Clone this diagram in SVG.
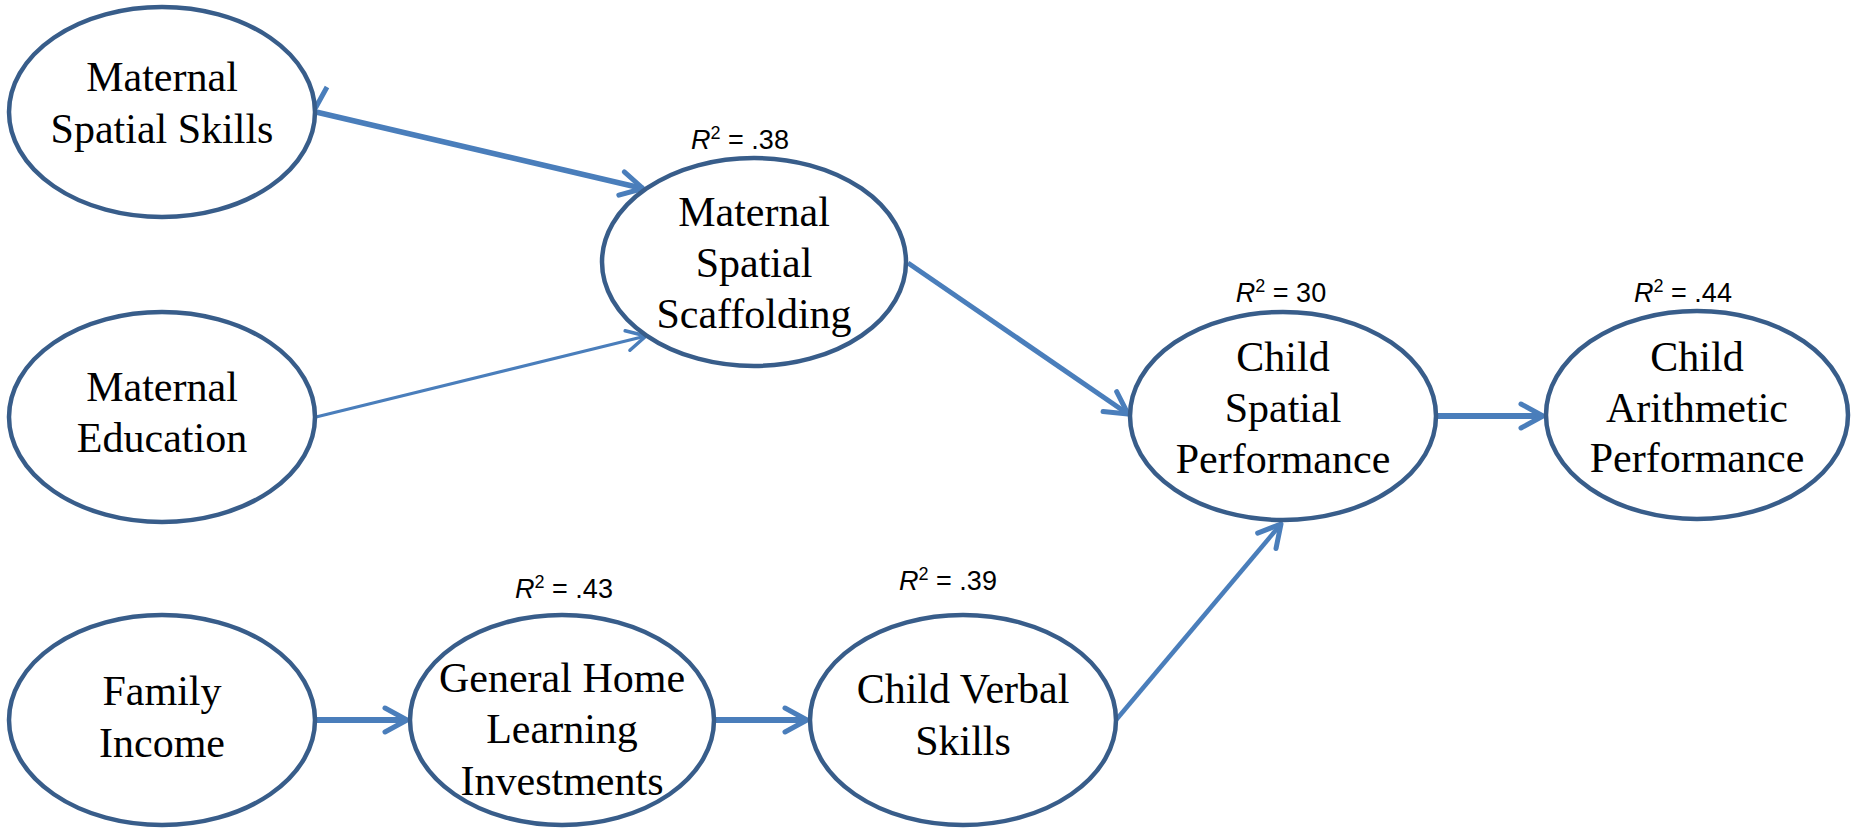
<svg xmlns="http://www.w3.org/2000/svg" width="1855" height="829" viewBox="0 0 1855 829">
<style>
.node{fill:#ffffff;stroke:#385D8A;stroke-width:4.5}
.lbl{font-family:"Liberation Serif","Times New Roman",serif;font-size:42px;fill:#000;text-anchor:middle}
.r2{font-family:"Liberation Sans",Arial,sans-serif;font-size:27px;fill:#000;text-anchor:middle}
.sup{font-size:18px}
.conn{fill:none;stroke:#4A7EBB;stroke-linecap:butt}
</style>
<defs>
<marker id="ah" markerUnits="userSpaceOnUse" markerWidth="40" markerHeight="40" viewBox="-30 -20 40 40" refX="0" refY="0" orient="auto" overflow="visible">
<path d="M-22,-12 L0,0 L-22,12" fill="none" stroke="#4A7EBB" stroke-width="5" stroke-linecap="round" stroke-linejoin="round"/>
</marker>
<marker id="ahs" markerUnits="userSpaceOnUse" markerWidth="40" markerHeight="40" viewBox="-30 -20 40 40" refX="0" refY="0" orient="auto" overflow="visible">
<path d="M-19,-10 L0,0 L-19,10" fill="none" stroke="#4A7EBB" stroke-width="3.5" stroke-linecap="round" stroke-linejoin="round"/>
</marker>
</defs>
<rect width="1855" height="829" fill="#ffffff"/>
<g id="connectors">
<path class="conn" d="M316,112 L643,188.5" stroke-width="5.5" marker-end="url(#ah)"/>
<path class="conn" d="M304,87 L316,107 L327,87" stroke-width="5" stroke-linecap="round" stroke-linejoin="round"/>
<path class="conn" d="M316,417 L646,336" stroke-width="3" marker-end="url(#ahs)"/>
<path class="conn" d="M908,263 L1128,414" stroke-width="5" marker-end="url(#ah)"/>
<path class="conn" d="M1116,720 L1281,524" stroke-width="4.5" marker-end="url(#ah)"/>
<path class="conn" d="M1437,416 L1543,416" stroke-width="6" marker-end="url(#ah)"/>
<path class="conn" d="M316,720 L407,720" stroke-width="6" marker-end="url(#ah)"/>
<path class="conn" d="M715,720 L807,720" stroke-width="6" marker-end="url(#ah)"/>
</g>
<g id="n-maternal-spatial-skills">
<ellipse class="node" cx="162" cy="112" rx="153" ry="105"/>
<text class="lbl" x="162" y="91">Maternal</text>
<text class="lbl" x="162" y="143">Spatial Skills</text>
</g>
<g id="n-maternal-education">
<ellipse class="node" cx="162" cy="417" rx="153" ry="105"/>
<text class="lbl" x="162" y="401">Maternal</text>
<text class="lbl" x="162" y="452">Education</text>
</g>
<g id="n-family-income">
<ellipse class="node" cx="162" cy="720" rx="153" ry="105"/>
<text class="lbl" x="162" y="705">Family</text>
<text class="lbl" x="162" y="757">Income</text>
</g>
<g id="n-scaffolding">
<ellipse class="node" cx="754" cy="262" rx="152" ry="104"/>
<text class="lbl" x="754" y="226">Maternal</text>
<text class="lbl" x="754" y="277">Spatial</text>
<text class="lbl" x="754" y="328">Scaffolding</text>
<text class="r2" x="740" y="149"><tspan font-style="italic">R</tspan><tspan class="sup" dy="-10">2</tspan><tspan dy="10"> = .38</tspan></text>
</g>
<g id="n-general-home">
<ellipse class="node" cx="562" cy="720" rx="152" ry="105"/>
<text class="lbl" x="562" y="692">General Home</text>
<text class="lbl" x="562" y="743">Learning</text>
<text class="lbl" x="562" y="795">Investments</text>
<text class="r2" x="564" y="598"><tspan font-style="italic">R</tspan><tspan class="sup" dy="-10">2</tspan><tspan dy="10"> = .43</tspan></text>
</g>
<g id="n-child-verbal">
<ellipse class="node" cx="963" cy="720" rx="153" ry="105"/>
<text class="lbl" x="963" y="703">Child Verbal</text>
<text class="lbl" x="963" y="755">Skills</text>
<text class="r2" x="948" y="590"><tspan font-style="italic">R</tspan><tspan class="sup" dy="-10">2</tspan><tspan dy="10"> = .39</tspan></text>
</g>
<g id="n-child-spatial">
<ellipse class="node" cx="1283" cy="416" rx="153" ry="104"/>
<text class="lbl" x="1283" y="371">Child</text>
<text class="lbl" x="1283" y="422">Spatial</text>
<text class="lbl" x="1283" y="473">Performance</text>
<text class="r2" x="1281" y="302"><tspan font-style="italic">R</tspan><tspan class="sup" dy="-10">2</tspan><tspan dy="10"> = 30</tspan></text>
</g>
<g id="n-child-arithmetic">
<ellipse class="node" cx="1697" cy="415" rx="151" ry="104"/>
<text class="lbl" x="1697" y="371">Child</text>
<text class="lbl" x="1697" y="422">Arithmetic</text>
<text class="lbl" x="1697" y="472">Performance</text>
<text class="r2" x="1683" y="302"><tspan font-style="italic">R</tspan><tspan class="sup" dy="-10">2</tspan><tspan dy="10"> = .44</tspan></text>
</g>
</svg>
